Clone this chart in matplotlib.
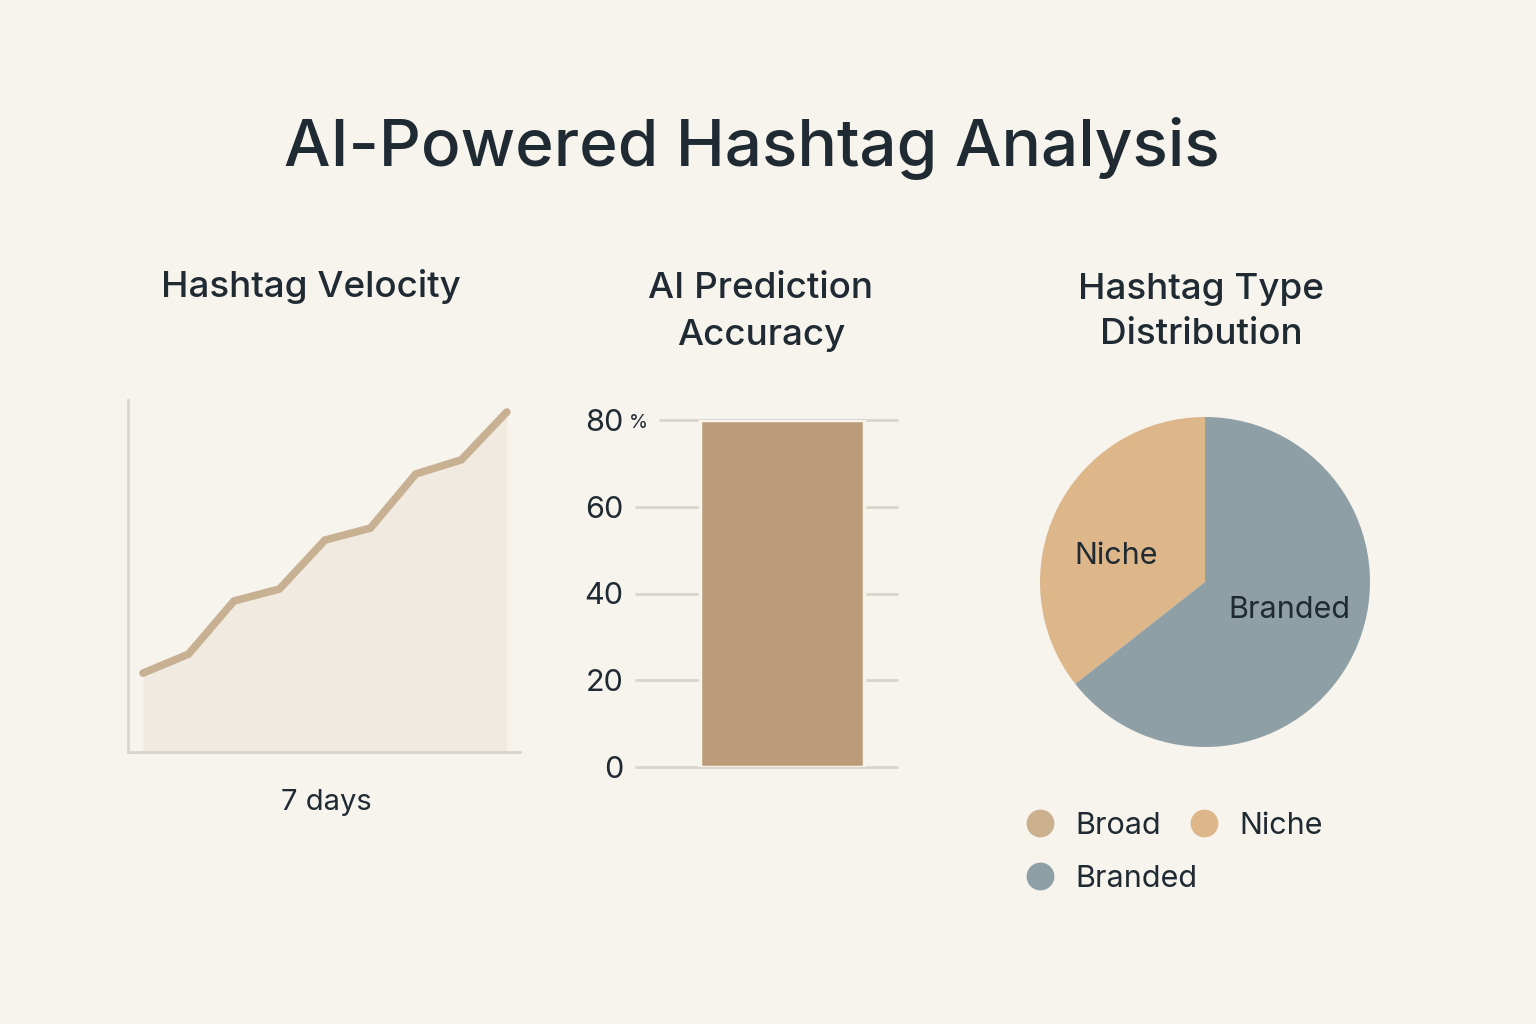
import numpy as np
import matplotlib.pyplot as plt
from matplotlib.lines import Line2D

plt.rcParams['font.family'] = ['Inter', 'DejaVu Sans']

# ------------ Donnees ------------
velocity_days = list(range(9))
velocity_values = [22.4, 27.8, 42.9, 46.3, 60.2, 63.6, 79.0, 83.0, 96.6]

accuracy_label = ['AI']
accuracy_values = [80]
accuracy_ticks = [0, 20, 40, 60, 80]

pie_labels = ['Niche', 'Branded']
pie_values = [35.6, 64.4]
legend_labels = ['Broad', 'Niche', 'Branded']

bg = '#F7F3ED'
dark = '#1F2A33'
col_line = '#C8B192'
col_fill = '#F1EAE1'
col_bar = '#BC9C78'
col_grid = '#D9D4CC'
col_broad = '#CBB08E'
col_niche = '#DDB68A'
col_branded = '#8E9FA6'

W, H = 1536, 1024
fig = plt.figure(figsize=(W / 100, H / 100), dpi=100, facecolor=bg)

def px_axes(left, top, right, bottom):
    return fig.add_axes([left / W, 1 - bottom / H, (right - left) / W, (bottom - top) / H])

fig.text(751.5 / W, 1 - 148 / H, 'AI-Powered Hashtag Analysis', ha='center', va='center',
         fontsize=47.3, color=dark, fontweight='medium')

# ------------ Panneau 1 : velocity ------------
ax1 = px_axes(128, 400, 520, 752)
ax1.set_facecolor('none')
ax1.fill_between(velocity_days, velocity_values, 0, color=col_fill, lw=0)
ax1.plot(velocity_days, velocity_values, color=col_line, lw=5.5, solid_capstyle='round',
         solid_joinstyle='miter')
ax1.set_xlim(-0.33, 8.29)
ax1.set_ylim(0, 100)
for s in ['top', 'right']:
    ax1.spines[s].set_visible(False)
for s in ['left', 'bottom']:
    ax1.spines[s].set_color(col_grid)
    ax1.spines[s].set_linewidth(2)
ax1.set_xticks([])
ax1.set_yticks([])
fig.text(326 / W, 1 - 802 / H, '7 days', ha='center', va='center', fontsize=21, color=dark)
fig.text(311 / W, 1 - 287 / H, 'Hashtag Velocity', ha='center', va='center', fontsize=26.5,
         color=dark, fontweight='medium')

# ------------ Panneau 2 : accuracy ------------
ax2 = px_axes(635, 420, 898, 767)
ax2.set_facecolor('none')
ax2.bar([0.559], accuracy_values, width=0.624, color=col_bar, edgecolor=bg, linewidth=2.5, zorder=3)
ax2.set_xlim(0, 1)
ax2.set_ylim(0, 80)
ax2.set_yticks(accuracy_ticks)
ax2.set_yticklabels([str(t) for t in accuracy_ticks])
ax2.tick_params(axis='y', length=0, pad=8.5, labelsize=22, labelcolor=dark)
ax2.set_xticks([])
# lignes de grille (celle du haut commence apres le signe %)
grid_start = [0.0 if t < 80 else 0.091 for t in accuracy_ticks]
ax2.hlines(accuracy_ticks, grid_start, 1.0, color=col_grid, lw=2, zorder=1, clip_on=False)
for s in ax2.spines.values():
    s.set_visible(False)
fig.text(638 / W, 1 - 423 / H, '%', ha='center', va='center', fontsize=14, color=dark)
fig.text(761 / W, 1 - 312 / H, 'AI Prediction\nAccuracy', ha='center', va='center',
         fontsize=26.5, color=dark, linespacing=1.5, fontweight='medium')

# ------------ Panneau 3 : pie ------------
ax3 = px_axes(1040, 417, 1370, 747)
ax3.pie(pie_values, colors=[col_niche, col_branded], startangle=90, counterclock=True, radius=1)
ax3.set_xlim(-1, 1)
ax3.set_ylim(-1, 1)
ax3.text(-0.54, 0.16, 'Niche', ha='center', va='center', fontsize=22, color=dark)
ax3.text(0.51, -0.17, 'Branded', ha='center', va='center', fontsize=22, color=dark)
fig.text(1201 / W, 1 - 312 / H, 'Hashtag Type\nDistribution', ha='center', va='center',
         fontsize=26.5, color=dark, linespacing=1.5, fontweight='medium')

leg_colors = {'Broad': col_broad, 'Niche': col_niche, 'Branded': col_branded}
order = ['Broad', 'Branded', 'Niche']
handles = [Line2D([], [], marker='o', ls='none', markersize=19, color=leg_colors[k]) for k in order]
fig.legend(handles, order, ncol=2, loc='upper left', bbox_to_anchor=(1025 / W, 1 - 812 / H),
           frameon=False, fontsize=22, handlelength=1.0, handletextpad=0.64, columnspacing=-0.27,
           labelspacing=0.82, borderpad=0, borderaxespad=0, labelcolor=dark)

fig.savefig('out.png', dpi=100, facecolor=bg)
